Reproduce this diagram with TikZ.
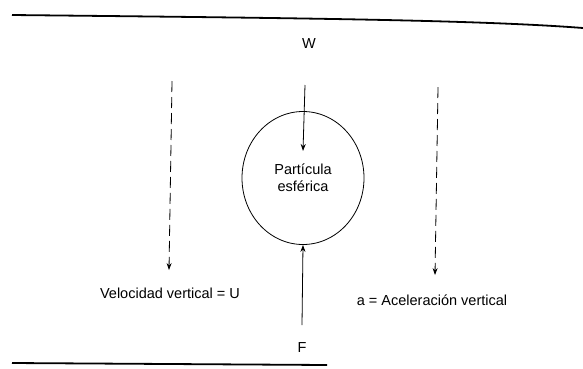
\documentclass[tikz,border=0pt]{standalone}
\usepackage{fontspec}
\setmainfont{Liberation Sans}
\usepackage{tikz}
\usetikzlibrary{shapes, arrows.meta, positioning, calc}
\tikzset{
    particle/.style={
        ellipse, draw, thick,
        minimum width=122pt, minimum height=133pt,
        align=center, inner sep=0pt
    },
    lbl/.style={font=\fontsize{14.5}{17}\selectfont, inner sep=1pt},
    force/.style={draw,-{Stealth[length=7pt,width=5pt]},thick},
    motion/.style={draw,-{Stealth[length=7pt,width=5pt]},thick,dash pattern=on 11pt off 5pt},
    wall/.style={draw,line width=1.8pt}
}
\begin{document}
\begin{tikzpicture}[x=1pt, y=-1pt]
        \useasboundingbox (0,0) rectangle (583,368);
        % Walls
        \draw [wall] (12,15) .. controls (300,18) and (480,20) .. (583,28);
        \draw [wall] (12,363) -- (327,365);

        % Nodes
        \node [particle, lbl] (part) at (303,178) {Partícula\\esférica};
        \node [lbl] (w) at (309,44) {W};
        \node [lbl] (f) at (302,348) {F};
        \node [lbl] (vel) at (170,293) {Velocidad vertical = U};
        \node [lbl] (acc) at (432,300) {a = Aceleración vertical};
        \coordinate (wtop) at (305,85);
        \coordinate (wtip) at (303,151);
        \coordinate (fbot) at (302,325);
        \coordinate (vtop) at (172,81);
        \coordinate (vtip) at (169,270);
        \coordinate (atop) at (438,87);
        \coordinate (atip) at (435,275);

        % Edges
        \draw [force] (wtop) -- (wtip);
        \draw [force] (fbot) -- (part.south);
        \draw [motion] (vtop) -- (vtip);
        \draw [motion] (atop) -- (atip);

    \end{tikzpicture}
\end{document}
